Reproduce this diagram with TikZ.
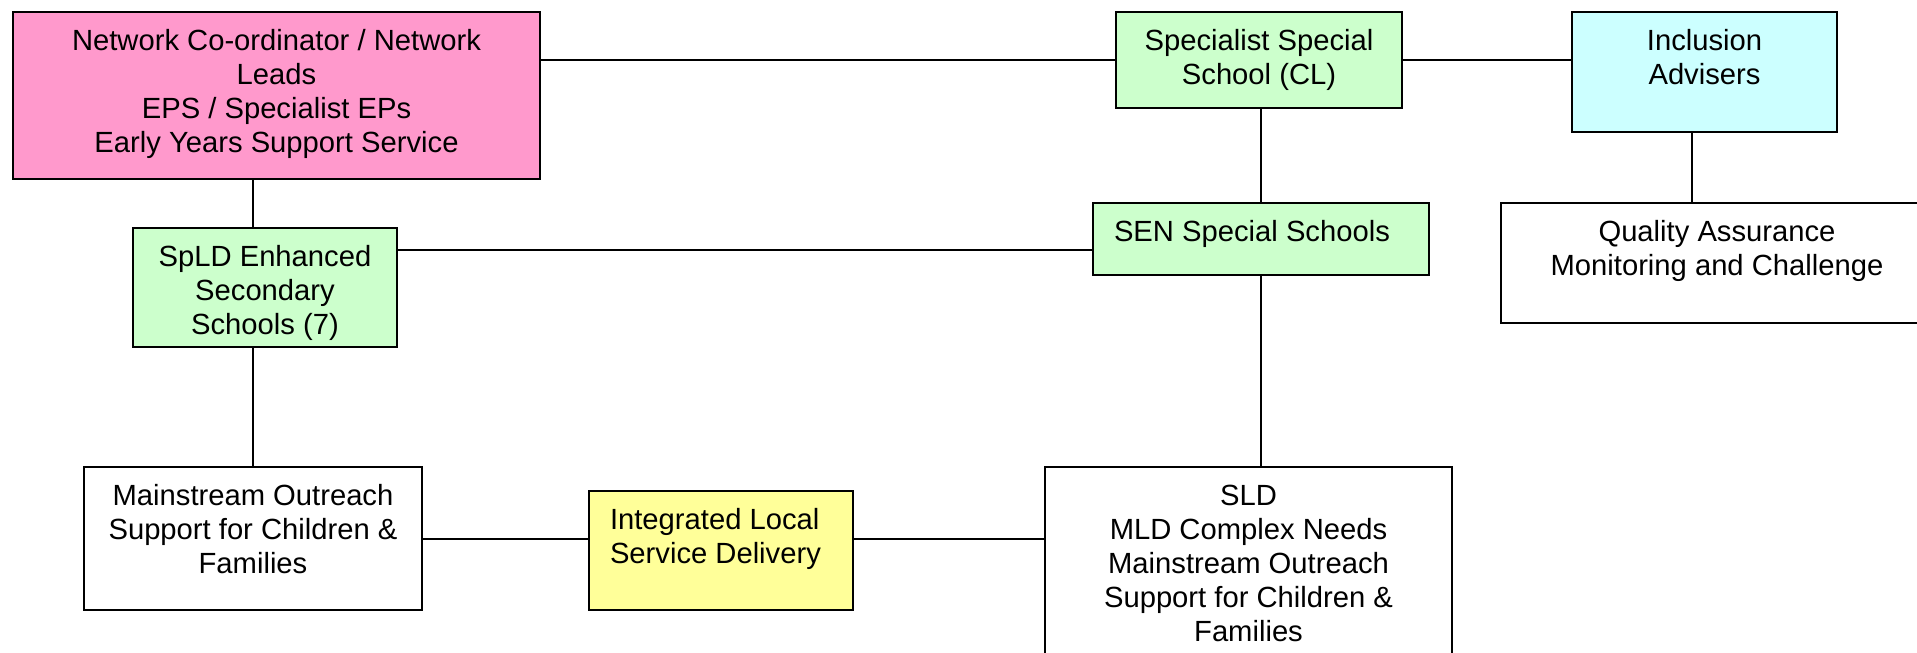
\documentclass[tikz,border=0pt]{standalone}
\usepackage{fontspec}
\setmainfont{Liberation Sans}
\usepackage{tikz}
\usetikzlibrary{positioning}
\definecolor{netpink}{HTML}{FF99CC}
\definecolor{schgreen}{HTML}{CCFFCC}
\definecolor{advcyan}{HTML}{CCFFFF}
\definecolor{ilsdyellow}{HTML}{FFFF99}
\newcommand{\boxtxt}[3]{\parbox[c][#2][t]{#1}{\centering\rule{0pt}{19pt}#3}}
\newcommand{\boxtxtl}[3]{\parbox[c][#2][t]{#1}{\raggedright\leftskip=10.5pt\rule{0pt}{19pt}#3}}

\begin{document}
\begin{tikzpicture}[x=0.5pt,y=-0.5pt,
orgbox/.style={draw,line width=1pt,inner sep=0pt,anchor=north west,font=\fontsize{14.6}{17}\selectfont},
link/.style={line width=1pt}]
\useasboundingbox (0,0) rectangle (1917,653);
\node[orgbox,fill=netpink](net) at (12,11){\boxtxt{263.5pt}{83.5pt}{Network Co-ordinator / Network\\Leads\\EPS / Specialist EPs\\Early Years Support Service}};
\node[orgbox,fill=schgreen](spec) at (1115,11){\boxtxt{143pt}{48pt}{Specialist Special\\School (CL)}};
\node[orgbox,fill=advcyan](incl) at (1571,11){\boxtxt{132.5pt}{60pt}{Inclusion\\Advisers}};
\node[orgbox,fill=schgreen](sen) at (1092,202){\boxtxtl{168pt}{36pt}{SEN Special Schools}};
\node[orgbox,fill=white](qa) at (1500,202){\boxtxt{216pt}{60pt}{Quality Assurance\\Monitoring and Challenge}};
\node[orgbox,fill=schgreen](spld) at (132,227){\boxtxt{132pt}{59.5pt}{SpLD Enhanced\\Secondary\\Schools (7)}};
\node[orgbox,fill=white](outreach) at (83,466){\boxtxt{169pt}{71.5pt}{Mainstream Outreach\\Support for Children \&\\Families}};
\node[orgbox,fill=ilsdyellow](ilsd) at (588,490){\boxtxtl{132pt}{59.5pt}{Integrated Local\\Service Delivery}};
\node[orgbox,fill=white](sld) at (1044,466){\boxtxt{203.5pt}{112pt}{SLD\\MLD Complex Needs\\Mainstream Outreach\\Support for Children \&\\Families}};
\draw[link](spec.west -| net.east)--(spec.west);
\draw[link](spec.east)--(spec.east -| incl.west);
\draw[link]([xshift=-6pt]spld.north |- net.south)--([xshift=-6pt]spld.north);
\draw[link]([yshift=-5.5pt]sen.west -| spld.east)--([yshift=-5.5pt]sen.west);
\draw[link](sen.north |- spec.south)--(sen.north);
\draw[link]([xshift=-6.25pt]incl.south)--([xshift=-6.25pt]incl.south |- qa.north);
\draw[link](outreach.north |- spld.south)--(outreach.north);
\draw[link](sen.south)--(sen.south |- sld.north);
\draw[link](outreach.east)--(outreach.east -| ilsd.west);
\draw[link](outreach.east -| ilsd.east)--(outreach.east -| sld.west);
\end{tikzpicture}
\end{document}
